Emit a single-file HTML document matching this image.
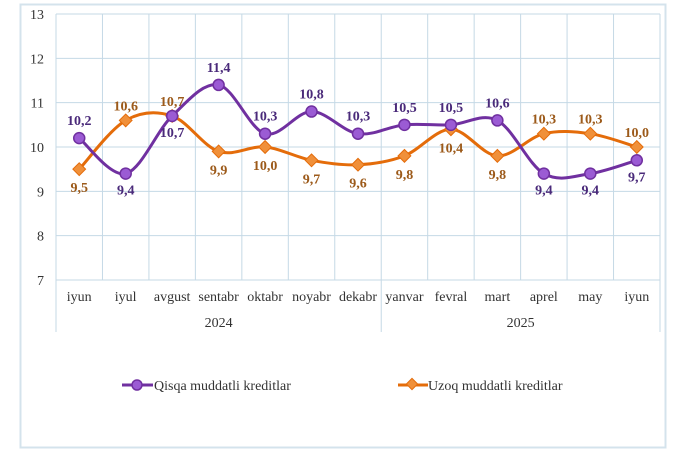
<!DOCTYPE html>
<html><head><meta charset="utf-8"><style>
html,body{margin:0;padding:0;background:#fff;}
svg{display:block;font-family:"Liberation Serif",serif;}
</style></head><body>
<svg id="c" width="680" height="453" xmlns="http://www.w3.org/2000/svg">
<rect x="20.5" y="4.5" width="645" height="443" fill="#fff" stroke="#d4e3ec" stroke-width="2"/>
<g id="grid" stroke="#c5d9e6" stroke-width="1"></g>
<g id="txt" font-size="14" fill="#333"></g>
<g id="series"></g>
<g font-size="14" fill="#333">
<line x1="122" y1="385" x2="153" y2="385" stroke="#7030a0" stroke-width="3"/>
<circle cx="137" cy="385" r="5" fill="#9b5bd4" stroke="#7030a0" stroke-width="1.5"/>
<text x="154" y="390">Qisqa muddatli kreditlar</text>
<line x1="398" y1="385" x2="428" y2="385" stroke="#e46c0a" stroke-width="3"/>
<rect x="408" y="380" width="8" height="8" fill="#f0903a" stroke="#e46c0a" transform="rotate(45 412 384)"/>
<text x="428" y="390">Uzoq muddatli kreditlar</text>
</g>
</svg>
<script>
var NS="http://www.w3.org/2000/svg";
function el(p,t,a,txt){var e=document.createElementNS(NS,t);for(var k in a)e.setAttribute(k,a[k]);if(txt!==undefined)e.textContent=txt;p.appendChild(e);return e;}
var L=56,R=660,T=14,B=280,n=13,cw=(R-L)/n;
function X(i){return L+cw/2+i*cw;}function Y(v){return B-(v-7)*(B-T)/6;}
var g=document.getElementById('grid'),tx=document.getElementById('txt'),s=document.getElementById('series');
for(var v=7;v<=13;v++){el(g,'line',{x1:L,x2:R,y1:Y(v),y2:Y(v)});el(tx,'text',{x:44,y:Y(v)+5,'text-anchor':'end'},String(v));}
for(var i=0;i<=n;i++){var x=L+i*cw;var yb=(i==0||i==7||i==n)?332:B;el(g,'line',{x1:x,x2:x,y1:T,y2:yb});}
var m=["iyun","iyul","avgust","sentabr","oktabr","noyabr","dekabr","yanvar","fevral","mart","aprel","may","iyun"];
m.forEach(function(t,i){el(tx,'text',{x:X(i),y:301,'text-anchor':'middle'},t);});
el(tx,'text',{x:L+3.5*cw,y:327,'text-anchor':'middle'},"2024");
el(tx,'text',{x:L+10*cw,y:327,'text-anchor':'middle'},"2025");
var P=[10.2,9.4,10.7,11.4,10.3,10.8,10.3,10.5,10.5,10.6,9.4,9.4,9.7];
var O=[9.5,10.6,10.7,9.9,10.0,9.7,9.6,9.8,10.4,9.8,10.3,10.3,10.0];
var Pd=[-1,1,1,-1,-1,-1,-1,-1,-1,-1,1,1,1];
var Od=[1,-1,-1,1,1,1,1,1,1,1,-1,-1,-1];
function path(a){var p=a.map(function(v,i){return [X(i),Y(v)];});var d="M"+p[0][0]+","+p[0][1];
for(var i=0;i<p.length-1;i++){var p0=p[i-1]||p[i],p1=p[i],p2=p[i+1],p3=p[i+2]||p2;var t=6;
d+=" C"+(p1[0]+(p2[0]-p0[0])/t)+","+(p1[1]+(p2[1]-p0[1])/t)+" "+(p2[0]-(p3[0]-p1[0])/t)+","+(p2[1]-(p3[1]-p1[1])/t)+" "+p2[0]+","+p2[1];}return d;}
el(s,'path',{d:path(O),fill:'none',stroke:'#e46c0a','stroke-width':3});
el(s,'path',{d:path(P),fill:'none',stroke:'#7030a0','stroke-width':3});
O.forEach(function(v,i){var x=X(i),y=Y(v);el(s,'rect',{x:x-4.5,y:y-4.5,width:9,height:9,fill:'#f0903a',stroke:'#e46c0a','stroke-width':1,transform:'rotate(45 '+x+' '+y+')'});
el(s,'text',{x:x,y:Od[i]<0?y-10:y+23,'text-anchor':'middle','font-size':14,'font-weight':'bold',fill:'#9c5a1a'},v.toFixed(1).replace('.',','));});
P.forEach(function(v,i){var x=X(i),y=Y(v);el(s,'circle',{cx:x,cy:y,r:5.5,fill:'#9b5bd4',stroke:'#7030a0','stroke-width':1.5});
el(s,'text',{x:x,y:Pd[i]<0?y-13:y+21,'text-anchor':'middle','font-size':14,'font-weight':'bold',fill:'#4a2a7a'},v.toFixed(1).replace('.',','));});
</script>
</body></html>
